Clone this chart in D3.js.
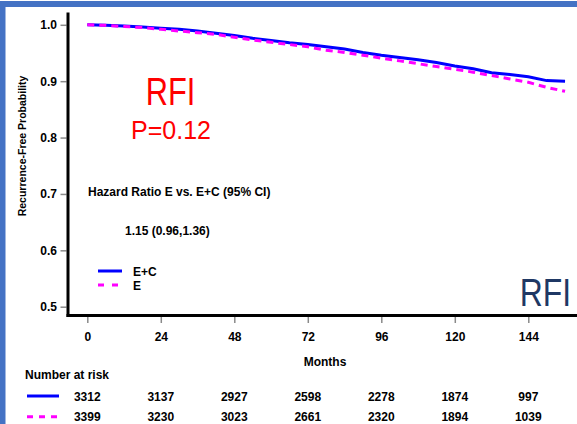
<!DOCTYPE html>
<html>
<head>
<meta charset="utf-8">
<script src="https://cdn.jsdelivr.net/npm/d3@7"></script>
<style>
  html, body { margin: 0; padding: 0; background: #fff; }
  svg { display: block; }
  text { font-family: "Liberation Sans", Arial, sans-serif; }
</style>
</head>
<body>
<svg id="chart" width="577" height="424"></svg>
<script>
// ---- data ----
const months = [0, 6, 12, 18, 24, 30, 36, 42, 48, 54, 60, 66, 72, 78, 84, 90, 96, 102, 108, 114, 120, 126, 132, 138, 144, 150, 156];
const survEC = [1.0, 0.999, 0.998, 0.996, 0.994, 0.992, 0.989, 0.985, 0.981, 0.976, 0.972, 0.968, 0.965, 0.961, 0.957, 0.951, 0.946, 0.942, 0.938, 0.933, 0.927, 0.922, 0.915, 0.912, 0.908, 0.901, 0.900];
const survE  = [1.0, 0.999, 0.997, 0.995, 0.992, 0.989, 0.986, 0.983, 0.978, 0.973, 0.969, 0.965, 0.961, 0.955, 0.951, 0.946, 0.941, 0.936, 0.931, 0.926, 0.921, 0.916, 0.910, 0.904, 0.898, 0.889, 0.882];
const xTicks = [0, 24, 48, 72, 96, 120, 144];
const yTicks = [0.5, 0.6, 0.7, 0.8, 0.9, 1.0];
const riskEC = [3312, 3137, 2927, 2598, 2278, 1874, 997];
const riskE  = [3399, 3230, 3023, 2661, 2320, 1894, 1039];
const seriesNames = ["E+C", "E"];
const colors = ["#0000ff", "#ff00ff"];

const svg = d3.select("#chart");

// frame
svg.append("rect").attr("x", 0).attr("y", 1).attr("width", 577).attr("height", 6).attr("fill", "#4472c4");
svg.append("rect").attr("x", 0).attr("y", 1).attr("width", 5.5).attr("height", 423).attr("fill", "#4472c4");

const x = d3.scaleLinear().domain([0, 144]).range([87.3, 528.3]);
const y = d3.scaleLinear().domain([0.5, 1.0]).range([306.7, 24.8]);

// y axis ticks
const yAxis = svg.append("g").attr("transform", "translate(66.5,0)")
  .call(d3.axisLeft(y).tickValues(yTicks).tickFormat(d3.format(".1f")).tickSize(6).tickPadding(3.5));
yAxis.select(".domain").remove();
yAxis.selectAll(".tick line").attr("stroke", "#8a8a8a").attr("stroke-width", 1.5);
yAxis.selectAll(".tick text").attr("font-size", 12).attr("font-weight", "bold").attr("fill", "#000");

// x axis ticks
const xAxis = svg.append("g").attr("transform", "translate(0,317)")
  .call(d3.axisBottom(x).tickValues(xTicks).tickSize(6).tickPadding(9));
xAxis.select(".domain").remove();
xAxis.selectAll(".tick line").attr("stroke", "#8a8a8a").attr("stroke-width", 1.5);
xAxis.selectAll(".tick text").attr("font-size", 12).attr("font-weight", "bold").attr("fill", "#000");

// thick axis lines
svg.append("line").attr("x1", 68).attr("x2", 68).attr("y1", 12.5).attr("y2", 317).attr("stroke", "#000").attr("stroke-width", 3);
svg.append("line").attr("x1", 66.5).attr("x2", 577).attr("y1", 315.5).attr("y2", 315.5).attr("stroke", "#000").attr("stroke-width", 3);

// axis titles
svg.append("text").attr("x", 325).attr("y", 366).attr("text-anchor", "middle")
  .attr("font-size", 12).attr("font-weight", "bold").text("Months");
svg.append("text").attr("transform", "translate(26,146) rotate(-90)").attr("text-anchor", "middle")
  .attr("font-size", 10.5).attr("font-weight", "bold").text("Recurrence-Free Probability");

// curves
const line = d3.line().x((d, i) => x(months[i])).y(d => y(d)).curve(d3.curveLinear);
svg.append("path").datum(survEC).attr("d", line).attr("fill", "none")
  .attr("stroke", colors[0]).attr("stroke-width", 3);
svg.append("path").datum(survE).attr("d", line).attr("fill", "none")
  .attr("stroke", colors[1]).attr("stroke-width", 3).attr("stroke-dasharray", "7,5");

// annotations
svg.append("text").attr("transform", "translate(170.5,105) scale(0.79,1)").attr("text-anchor", "middle")
  .attr("font-family", "Lato").attr("font-size", 39).attr("fill", "#ff0000").text("RFI");
svg.append("text").attr("x", 171).attr("y", 139).attr("text-anchor", "middle")
  .attr("font-family", "Lato").attr("font-size", 25).attr("fill", "#ff0000").text("P=0.12");
svg.append("text").attr("transform", "translate(545.5,306) scale(0.84,1)").attr("text-anchor", "middle")
  .attr("font-family", "Lato").attr("font-size", 38).attr("fill", "#1f3864").text("RFI");

svg.append("text").attr("x", 88).attr("y", 196).attr("font-size", 12).attr("font-weight", "bold")
  .text("Hazard Ratio E vs. E+C (95% CI)");
svg.append("text").attr("x", 125).attr("y", 235).attr("font-size", 12).attr("font-weight", "bold")
  .text("1.15 (0.96,1.36)");

// legend
const legY = [271, 285];
seriesNames.forEach((name, i) => {
  svg.append("line").attr("x1", 98).attr("x2", i === 0 ? 122 : 118).attr("y1", legY[i]).attr("y2", legY[i])
    .attr("stroke", colors[i]).attr("stroke-width", 3).attr("stroke-dasharray", i === 0 ? null : "6,8");
  svg.append("text").attr("x", 133).attr("y", legY[i] + 4.5).attr("font-size", 12).attr("font-weight", "bold").text(name);
});

// number at risk
svg.append("text").attr("x", 25).attr("y", 379).attr("font-size", 12).attr("font-weight", "bold").text("Number at risk");
const riskRows = [riskEC, riskE];
const riskY = [396, 416.7];
riskRows.forEach((row, i) => {
  svg.append("line").attr("x1", 27).attr("x2", 59).attr("y1", riskY[i]).attr("y2", riskY[i])
    .attr("stroke", colors[i]).attr("stroke-width", 3).attr("stroke-dasharray", i === 0 ? null : "6,6");
  svg.append("g").selectAll("text").data(row).join("text")
    .attr("x", (d, j) => x(xTicks[j])).attr("y", riskY[i] + 4.5)
    .attr("text-anchor", "middle").attr("font-size", 12).attr("font-weight", "bold").text(d => d);
});
</script>
</body>
</html>
